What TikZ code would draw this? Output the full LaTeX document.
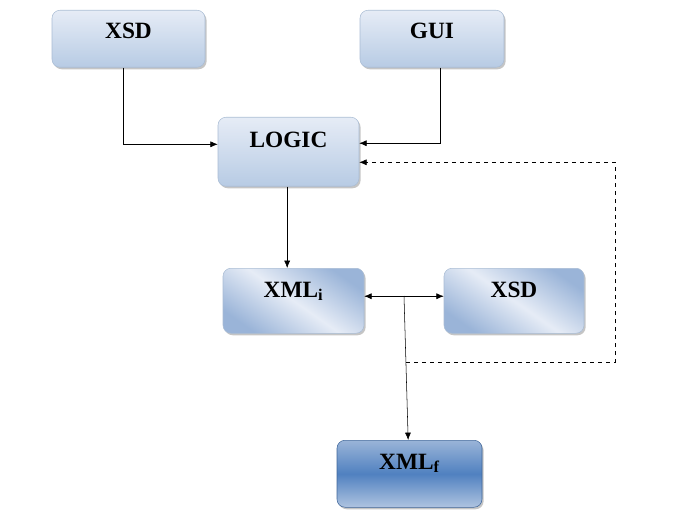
\documentclass[tikz,border=0pt]{standalone}
\usepackage{fontspec}
\setmainfont{Liberation Serif}
\usetikzlibrary{shadows,arrows.meta}
\definecolor{paleTop}{HTML}{E6ECF6}
\definecolor{paleBot}{HTML}{B7CBE4}
\definecolor{midBlue}{HTML}{9AB4D8}
\definecolor{deepBlue}{HTML}{5081C0}
\definecolor{rimBlue}{HTML}{A9BCD4}
\begin{document}
\begin{tikzpicture}
		[x=0.75pt, y=-0.75pt, >={Latex[length=5.5pt,width=4.5pt]},
		 every node/.style={inner sep=0pt, font=\fontsize{17.5}{17.5}\selectfont\bfseries},
		 blockbox/.style={draw=rimBlue, rounded corners=6pt, anchor=north,
		   drop shadow={shadow xshift=1.2pt, shadow yshift=-1.5pt, fill=black!45, opacity=.5}},
		 lightbox/.style={blockbox, top color=paleTop, bottom color=paleBot},
		 slantbox/.style={blockbox, top color=midBlue, bottom color=midBlue, middle color=paleTop, shading angle=-35},
		 darkbox/.style={blockbox, draw=deepBlue!80!black, top color=midBlue, bottom color=midBlue!80, middle color=deepBlue}]
		\useasboundingbox (0,0) rectangle (675,524);
		\node[lightbox, minimum width=114.75pt, text height=21pt, text depth=21.75pt] (xsdA) at (128.5,10) {XSD};
		\node[lightbox, minimum width=108pt, text height=21pt, text depth=21.75pt] (gui) at (432,10) {GUI};
		\node[lightbox, minimum width=105.75pt, text height=22.5pt, text depth=29.25pt] (logic) at (288.5,117) {LOGIC};
		\node[slantbox, minimum width=105.75pt, text height=21.75pt, text depth=27pt] (xmli) at (293.5,268) {XML\textsubscript{i}};
		\node[slantbox, minimum width=105pt, text height=21.75pt, text depth=27pt] (xsdB) at (514,268) {XSD};
		\node[darkbox, minimum width=108.75pt, text height=21.75pt, text depth=28.5pt] (xmlf) at (409.5,440) {XML\textsubscript{f}};
		\coordinate (junc) at (404,296);
		\coordinate (dashA) at (406,362);
		\coordinate (loopcorner) at (615,362);
		
		\draw[->] ([xshift=-4pt]xsdA.south) |- ([yshift=5.6pt]logic.west);
		\draw[->] ([xshift=6pt]gui.south) |- ([yshift=6.4pt]logic.east);
		\draw[->] ([xshift=-1pt]logic.south) -- ([xshift=-1pt]logic.south |- xmli.north);
		\draw[<->] ([yshift=3.4pt]xmli.east) -- ([yshift=3.4pt]xsdB.west);
		\draw[->] (junc) -- ([xshift=-1pt]xmlf.north);
		\draw[->, dashed] (dashA) -- (loopcorner) |- ([yshift=-7.9pt]logic.east);
		\end{tikzpicture}
\end{document}
